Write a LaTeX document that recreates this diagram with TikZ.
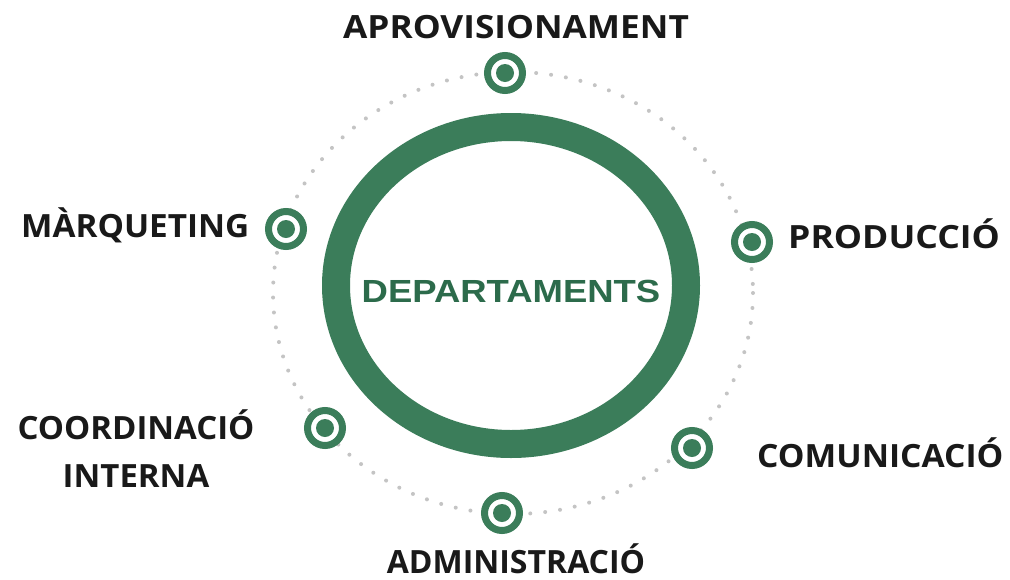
\documentclass[tikz,border=0pt]{standalone}
\usepackage{fontspec}
\newfontfamily\lblfont{Open Sans}
\newfontfamily\depfont[FakeStretch=1.14]{Liberation Sans}

\definecolor{verd}{HTML}{3B7D5A}
\definecolor{verdfosc}{HTML}{2C6B4B}
\definecolor{punts}{HTML}{C4C4C4}

% amplada de cada etiqueta
\newcommand{\ample}[2]{\scalebox{#1}[1]{#2}}

\tikzset{
  etiq/.style={font=\lblfont\bfseries\fontsize{32}{48}\selectfont, text=black!90,
    inner sep=0pt, align=center},
  fita/.style={circle, draw=verd, line width=7pt, fill=white, minimum size=35pt,
    inner sep=0pt,
    path picture={\fill[verd] (path picture bounding box.center) circle (9pt);}}
}

\begin{document}
\begin{tikzpicture}[x=1pt,y=-1pt]

\fill[white] (0,0) rectangle (1010,579);
\useasboundingbox (0,0) rectangle (1010,579);

% --- cercle de punts ---
\draw[punts, line width=4pt, line cap=round, dash pattern=on 0pt off 15pt]
  (513,293) ellipse [x radius=240, y radius=221];

% --- anell central ---
\draw[verd, line width=28pt] (511,285.5) ellipse [x radius=175, y radius=158.5];
\node[font=\depfont\bfseries\fontsize{32}{36}\selectfont, text=verdfosc,
  anchor=base, inner sep=0pt] (dep) at (511,302) {DEPARTAMENTS};

% fites sobre el cercle
\node[fita] (aprov) at (505,73) {};
\node[fita] (marq) at (286,229) {};
\node[fita] (prod) at (752,242) {};
\node[fita] (coord) at (325,428) {};
\node[fita] (comun) at (692,448) {};
\node[fita] (admin) at (502,513) {};

% etiquetes
\node[etiq, anchor=base] (tAprov) at (516,38) {\ample{1.1}{APROVISIONAMENT}};
\node[etiq, anchor=base west] (tMarq) at (21,237) {\ample{1.04}{MÀRQUETING}};
\node[etiq, anchor=base west] (tProd) at (788,248) {\ample{1.11}{PRODUCCIÓ}};
\node[etiq, anchor=base] (tCoord) at (136,487)
  {\ample{1.03}{COORDINACIÓ}\\\ample{1.03}{INTERNA}};
\node[etiq, anchor=base west] (tComun) at (757,467) {\ample{1.05}{COMUNICACIÓ}};
\node[etiq, anchor=base] (tAdmin) at (516,573) {ADMINISTRACIÓ};

\end{tikzpicture}
\end{document}
